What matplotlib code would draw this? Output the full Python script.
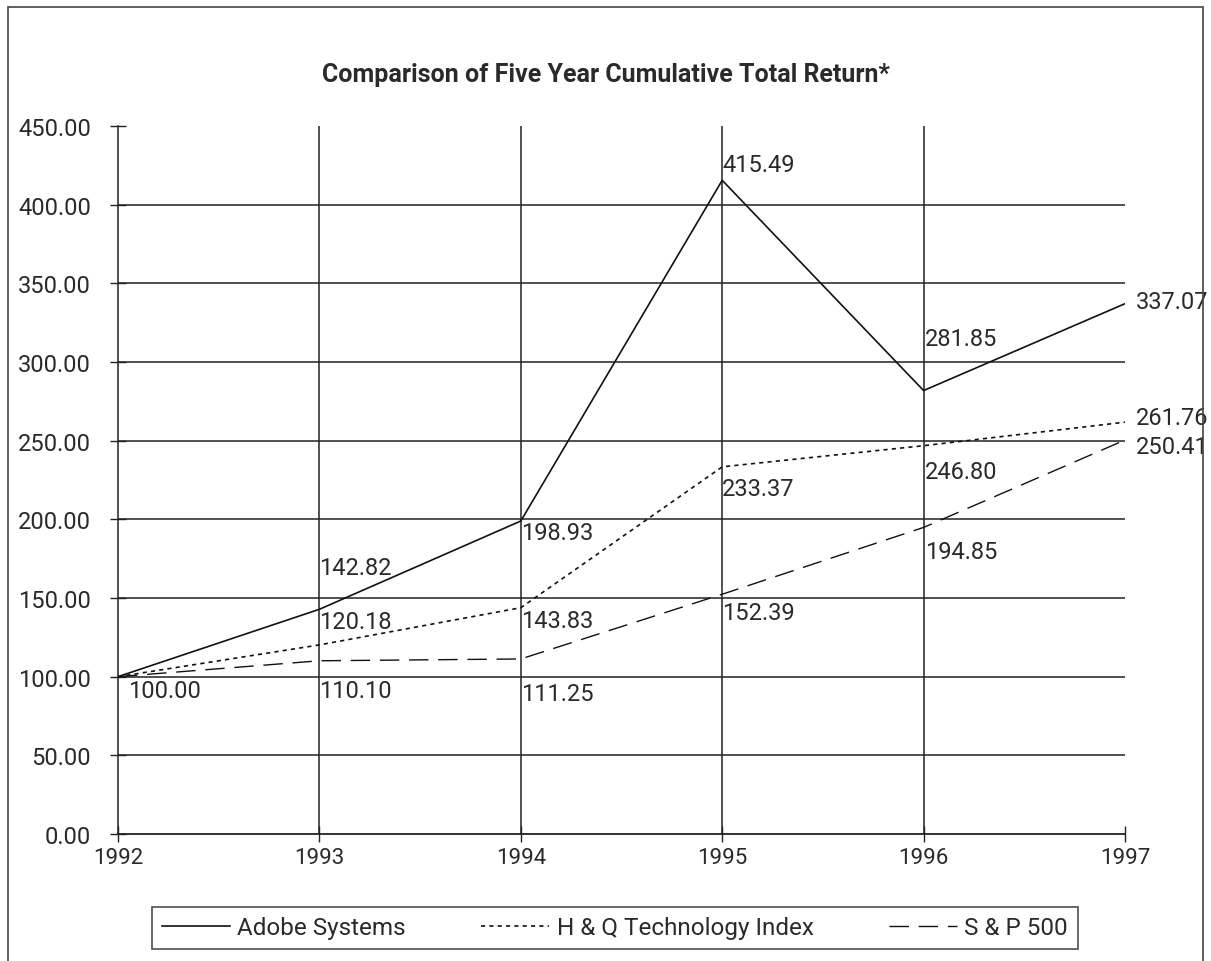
import matplotlib.pyplot as plt
from matplotlib.patches import Rectangle

# ===============================
# 1. DATOS
# ===============================

years = [1992, 1993, 1994, 1995, 1996, 1997]
adobe = [100.00, 142.82, 198.93, 415.49, 281.85, 337.07]
hq_tech = [100.00, 120.18, 143.83, 233.37, 246.80, 261.76]
sp500 = [100.00, 110.10, 111.25, 152.39, 194.85, 250.41]

series_names = ["Adobe Systems", "H & Q Technology Index", "S & P 500"]
y_ticks = [0, 50, 100, 150, 200, 250, 300, 350, 400, 450]

# desplazamiento de etiquetas (pixeles, x / y)
adobe_off = [(10, -14), (0, 42), (0, -11), (0, 16), (1, 52), (11, 2)]
hq_off = [None, (0, 23), (0, -13), (0, -22), (1, -26), (11, 5)]
sp_off = [None, (0, -30), (0, -35), (0, -18), (1, -24), (11, -6)]

plt.rcParams["font.family"] = ["Roboto", "DejaVu Sans"]
txt_color = "#2a2a2a"
line_color = "#222222"

# ===============================
# 2. FIGURA
# ===============================

fig = plt.figure(figsize=(12.11, 9.62), dpi=100)
W, H = 1211, 962
ax = fig.add_axes([118 / W, (H - 835) / H, (1125 - 118) / W, (835 - 127) / H])

# borde exterior
fig.patches.append(Rectangle((8 / W, -0.05), (1203 - 8) / W, 1.0 - 8 / H + 0.05,
                             transform=fig.transFigure, fill=False,
                             edgecolor="#444444", linewidth=1.2))

# rejilla
for v in y_ticks[1:-1]:
    ax.plot([years[0], years[-1]], [v, v], color=line_color, lw=1.1, zorder=1)
for yr in years[1:-1]:
    ax.plot([yr, yr], [0, 450], color=line_color, lw=1.1, zorder=1)

# series
ax.plot(years, adobe, color="#111111", lw=1.2, label=series_names[0], zorder=3)
ax.plot(years, hq_tech, color="#111111", lw=1.2, dashes=(2.5, 2.5),
        label=series_names[1], zorder=3)
ax.plot(years, sp500, color="#111111", lw=1.0, dashes=(14, 7),
        label=series_names[2], zorder=3)

# etiquetas de valores
for vals, offs in [(adobe, adobe_off), (hq_tech, hq_off), (sp500, sp_off)]:
    for yr, v, off in zip(years, vals, offs):
        if off is None:
            continue
        ax.annotate(f"{v:.2f}", (yr, v), xytext=off, textcoords="offset pixels",
                    ha="left", va="center", fontsize=17, color=txt_color,
                    annotation_clip=False)

# ejes
ax.set_xlim(years[0], years[-1])
ax.set_ylim(0, 450)
ax.set_xticks(years)
ax.set_yticks(y_ticks)
ax.set_yticklabels([f"{v:.2f}" for v in y_ticks])
for s in ["top", "right"]:
    ax.spines[s].set_visible(False)
ax.spines["left"].set_color(line_color)
ax.spines["bottom"].set_color(line_color)
ax.spines["left"].set_linewidth(1.1)
ax.spines["bottom"].set_linewidth(1.3)
ax.tick_params(direction="inout", length=11, width=1.0, color=line_color,
               labelcolor=txt_color)
ax.tick_params(axis="y", pad=14, labelsize=17)
ax.tick_params(axis="x", pad=4, labelsize=16)

fig.text(0.5, 1 - 75 / H, "Comparison of Five Year Cumulative Total Return*",
         ha="center", va="center", fontsize=18, fontweight="bold", color=txt_color)

leg = fig.legend(loc="center", bbox_to_anchor=(615 / W, 1 - 929 / H), ncol=3,
                 fontsize=17.5, frameon=True, fancybox=False, shadow=False,
                 handlelength=2.8, handletextpad=0.3, columnspacing=3.1,
                 borderpad=0.4, labelcolor=txt_color)
leg.get_frame().set_edgecolor("#222222")
leg.get_frame().set_linewidth(1.2)

plt.savefig("out.png", dpi=100)
